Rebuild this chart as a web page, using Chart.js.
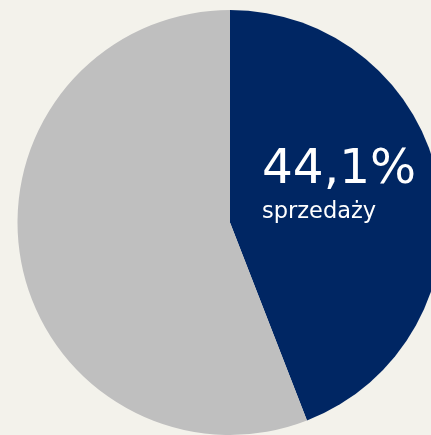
<!DOCTYPE html>
<html>
<head>
<meta charset="utf-8">
<script src="https://cdn.jsdelivr.net/npm/chart.js"></script>
<style>
  html, body { margin: 0; padding: 0; background: #f3f2eb; overflow: hidden; }
  #wrap { position: absolute; left: 0; top: 0; width: 460px; height: 445px; }
</style>
</head>
<body>
<div id="wrap"><canvas id="pieChart"></canvas></div>
<script>
const categories = ["sprzedaży", "pozostałe"];
const shares = [44.1, 55.9];
const colors = ["#002663", "#bfbfbf"];
const mainLabel = "44,1%";
const subLabel = "sprzedaży";

// napis na granatowym wycinku
const labelPlugin = {
  id: "sliceLabel",
  afterDraw(chart) {
    const arc = chart.getDatasetMeta(0).data[0];
    const ctx = chart.ctx;
    const x = arc.x + 32;
    const y = arc.y - 40;
    ctx.save();
    ctx.fillStyle = "#ffffff";
    ctx.textAlign = "left";
    ctx.textBaseline = "alphabetic";
    ctx.font = "48.5px 'DejaVu Sans'";
    ctx.fillText(mainLabel, x, y);
    ctx.font = "22.5px 'DejaVu Sans'";
    ctx.fillText(subLabel, x, y + 35);
    ctx.restore();
  },
};

new Chart(document.getElementById("pieChart"), {
  type: "pie",
  data: {
    labels: categories,
    datasets: [
      {
        data: shares,
        backgroundColor: colors,
        borderWidth: 0,
      },
    ],
  },
  options: {
    responsive: true,
    maintainAspectRatio: false,
    animation: false,
    layout: { padding: 10 },
    plugins: {
      legend: { display: false },
      tooltip: { enabled: false },
    },
  },
  plugins: [labelPlugin],
});
</script>
</body>
</html>
